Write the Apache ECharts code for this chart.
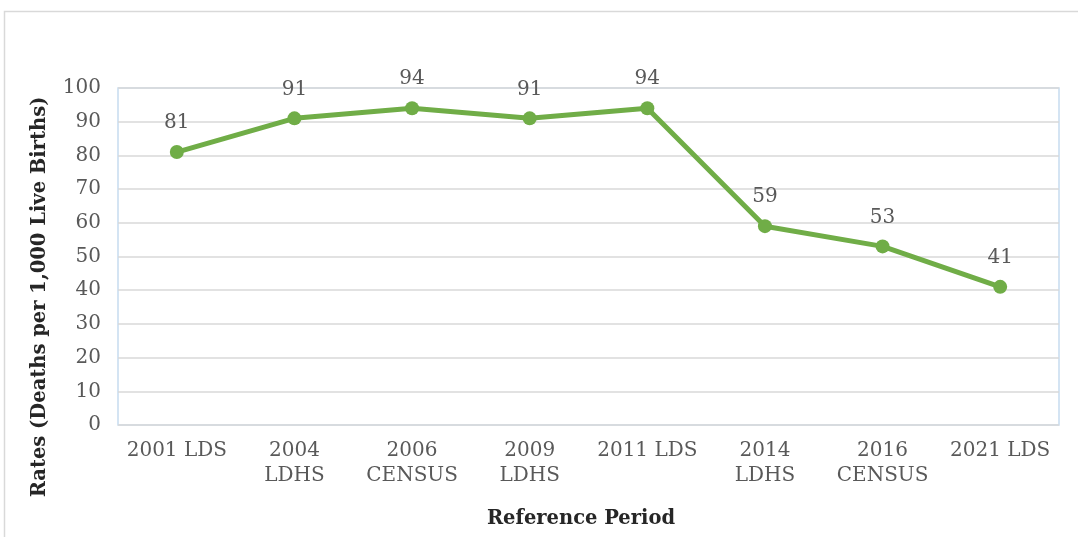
<!DOCTYPE html>
<html>
<head>
<meta charset="utf-8">
<script src="https://cdn.jsdelivr.net/npm/echarts@6/dist/echarts.min.js"></script>
<style>
  html, body { margin: 0; padding: 0; background: #ffffff; }
  #chart { width: 1078px; height: 537px; }
</style>
</head>
<body>
<div id="chart"></div>
<script>
// Survey / census rounds on the horizontal axis
const periods = ['2001 LDS', '2004\nLDHS', '2006\nCENSUS', '2009\nLDHS', '2011 LDS', '2014\nLDHS', '2016\nCENSUS', '2021 LDS'];
// Rate per 1,000 live births for each round
const rates = [81, 91, 94, 91, 94, 59, 53, 41];
// Vertical axis range
const yMin = 0;
const yMax = 100;
const yStep = 10;

const serif = '"DejaVu Serif", "Liberation Serif", serif';
const textColor = '#595959';

const chart = echarts.init(document.getElementById('chart'), null, { renderer: 'canvas' });

chart.setOption({
  backgroundColor: '#ffffff',
  animation: false,
  grid: {
    left: 118, right: 19, top: 88, bottom: 112,
    show: true,
    borderColor: '#c6dbef',
    borderWidth: 1.5,
    backgroundColor: 'transparent'
  },
  xAxis: {
    type: 'category',
    data: periods,
    boundaryGap: true,
    axisLine: { show: false },
    axisTick: { show: false },
    axisLabel: {
      interval: 0,
      margin: 13,
      color: textColor,
      fontFamily: serif,
      fontSize: 20,
      lineHeight: 25,
      align: 'center'
    }
  },
  yAxis: {
    type: 'value',
    min: yMin, max: yMax, interval: yStep,
    axisLine: { show: false },
    axisTick: { show: false },
    axisLabel: {
      margin: 17,
      color: textColor,
      fontFamily: serif,
      fontSize: 20
    },
    splitLine: { lineStyle: { color: '#d9d9d9', width: 1.5 } }
  },
  graphic: [
    {
      type: 'rect',
      silent: true,
      z: -10,
      shape: { x: 4.5, y: 11.5, width: 1200, height: 700 },
      style: { fill: 'transparent', stroke: '#d9d9d9', lineWidth: 1.5 }
    },
    {
      type: 'text',
      x: 40, y: 297,
      rotation: Math.PI / 2,
      style: {
        text: 'Rates (Deaths per 1,000 Live Births)',
        fill: '#262626',
        font: 'bold 19.5px ' + serif,
        align: 'center',
        verticalAlign: 'middle'
      }
    },
    {
      type: 'text',
      x: 581, y: 519,
      style: {
        text: 'Reference Period',
        fill: '#262626',
        font: 'bold 19.5px ' + serif,
        align: 'center',
        verticalAlign: 'middle'
      }
    }
  ],
  series: [{
    type: 'line',
    data: rates,
    symbol: 'circle',
    symbolSize: 14,
    lineStyle: { color: '#70ad47', width: 5 },
    itemStyle: { color: '#70ad47' },
    label: {
      show: true,
      position: 'top',
      distance: 12,
      color: textColor,
      fontFamily: serif,
      fontSize: 20
    }
  }]
});
</script>
</body>
</html>
